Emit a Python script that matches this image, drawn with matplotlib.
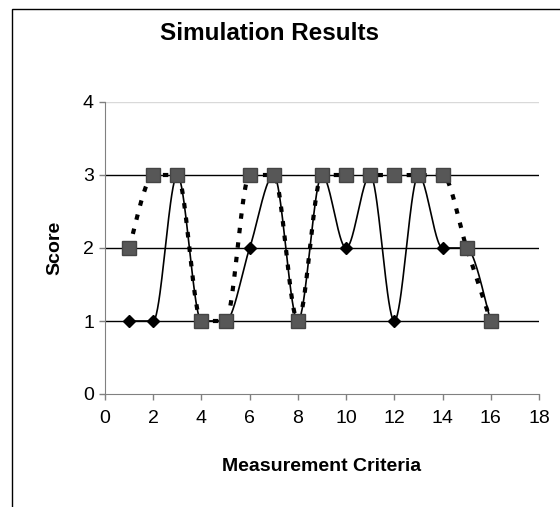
import numpy as np
import matplotlib.pyplot as plt
from matplotlib.patches import Rectangle

plt.rcParams['font.family'] = ['Liberation Sans', 'DejaVu Sans']

# data
criteria = list(range(1, 17))
series_a = [1, 1, 3, 1, 1, 2, 3, 1, 3, 2, 3, 1, 3, 2, 2, 1]   # diamonds, solid smooth line
series_b = [2, 3, 3, 1, 1, 3, 3, 1, 3, 3, 3, 3, 3, 3, 2, 1]   # squares, dotted smooth line
x_ticks = [0, 2, 4, 6, 8, 10, 12, 14, 16, 18]
y_ticks = [0, 1, 2, 3, 4]


def smooth(xs, ys, n=40):
    """Smoothed line through the points (cubic Bezier, no overshoot at flat/extreme points)."""
    xs = np.asarray(xs, float)
    ys = np.asarray(ys, float)
    m = len(xs)
    tx = np.zeros(m)
    ty = np.zeros(m)
    for i in range(m):
        a = max(i - 1, 0)
        b = min(i + 1, m - 1)
        tx[i] = (xs[b] - xs[a]) / 2
        ty[i] = (ys[b] - ys[a]) / 2
        if 0 < i < m - 1 and (ys[i] - ys[i - 1]) * (ys[i + 1] - ys[i]) <= 0:
            ty[i] = 0
    t = np.linspace(0, 1, n)[:, None]
    out = []
    for i in range(m - 1):
        p1 = np.array([xs[i], ys[i]])
        p2 = np.array([xs[i + 1], ys[i + 1]])
        c1 = p1 + np.array([tx[i], ty[i]]) / 3
        c2 = p2 - np.array([tx[i + 1], ty[i + 1]]) / 3
        b = (1 - t) ** 3 * p1 + 3 * (1 - t) ** 2 * t * c1 + 3 * (1 - t) * t ** 2 * c2 + t ** 3 * p2
        out.append(b)
    out = np.vstack(out)
    return out[:, 0], out[:, 1]


fig = plt.figure(figsize=(5.6, 5.07), dpi=100)
ax = fig.add_axes([105 / 560, 1 - 394 / 507, 434 / 560, 292 / 507])

# outer chart frame (cropped on the right and bottom)
fig.patches.append(Rectangle((12 / 560, -0.1), 1.2, 1 - 9 / 507 + 0.1,
                             transform=fig.transFigure, fill=False,
                             edgecolor='black', linewidth=1))

ax.set_xlim(0, 18)
ax.set_ylim(0, 4)

for y in y_ticks[1:]:
    ax.axhline(y, color='#d9d9d9' if y == 4 else 'black', linewidth=1, zorder=1)

ax.plot(*smooth(criteria, series_b), color='black', linewidth=3,
        linestyle=(0, (1.3, 2.2)), zorder=2)
ax.plot(*smooth(criteria, series_a), color='black', linewidth=1.2, zorder=3)
ax.plot(criteria, series_a, linestyle='none', marker='D', markersize=6.5,
        color='black', zorder=4)
ax.plot(criteria, series_b, linestyle='none', marker='s', markersize=9.5,
        markerfacecolor='#575757', markeredgecolor='#444444', zorder=5)

ax.set_xticks(x_ticks)
ax.set_yticks(y_ticks)
ax.tick_params(labelsize=14, color='#808080', length=4.5, width=1)
ax.tick_params(axis='x', pad=7)
for side in ['top', 'right']:
    ax.spines[side].set_visible(False)
for side in ['left', 'bottom']:
    ax.spines[side].set_color('#808080')

ax.set_xlabel('Measurement Criteria', fontsize=14, fontweight='bold', labelpad=22)
ax.set_ylabel('Score', fontsize=14, fontweight='bold', labelpad=14)
fig.text(270 / 560, 1 - 33 / 507, 'Simulation Results', ha='center', va='center',
         fontsize=17.5, fontweight='bold')

fig.savefig('out.png', dpi=100)
